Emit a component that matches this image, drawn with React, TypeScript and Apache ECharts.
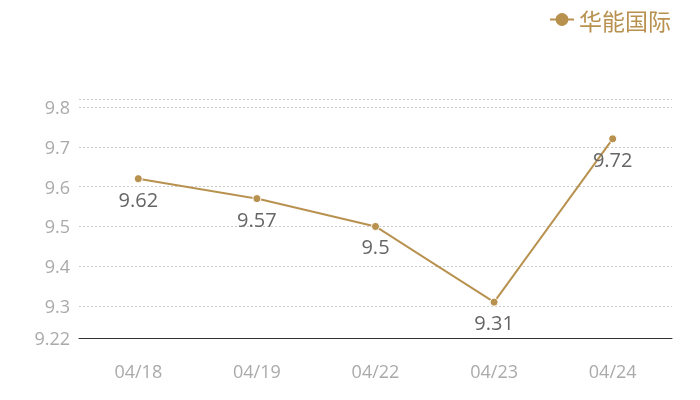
import React, { useEffect, useRef } from "react";
import * as echarts from "echarts";

const categories = ["04/18", "04/19", "04/22", "04/23", "04/24"];
const values = [9.62, 9.57, 9.5, 9.31, 9.72];
const seriesName = "华能国际";
const yMin = 9.22;
const yMax = 9.82;
const gridTicks = [9.22, 9.3, 9.4, 9.5, 9.6, 9.7, 9.8, 9.82];
const labelTicks = [9.22, 9.3, 9.4, 9.5, 9.6, 9.7, 9.8];

export default function App() {
  const ref = useRef<HTMLDivElement>(null);
  useEffect(() => {
    if (!ref.current) return;
    const chart = echarts.init(ref.current, null, { renderer: "svg" });
    const font = "'Open Sans', 'Noto Sans CJK SC', sans-serif";
    chart.setOption({
      animation: false,
      legend: {
        top: 3,
        right: 24,
        itemWidth: 24,
        itemHeight: 16,
        itemGap: 6,
        data: [seriesName],
        itemStyle: { borderWidth: 0 },
        textStyle: { color: "#b8914f", fontSize: 23, fontFamily: "'Noto Sans CJK SC', sans-serif" },
      },
      grid: { left: 79, right: 28, top: 99, bottom: 62, containLabel: false },
      xAxis: {
        type: "category",
        data: categories,
        axisLine: { lineStyle: { color: "#333", width: 1 } },
        axisTick: { show: false },
        axisLabel: { color: "#aaa", fontSize: 18, margin: 24, fontFamily: font },
      },
      yAxis: {
        type: "value",
        min: yMin,
        max: yMax,
        axisLine: { show: false },
        axisTick: { show: false, customValues: gridTicks },
        axisLabel: { color: "#aaa", fontSize: 18, margin: 9, customValues: labelTicks, fontFamily: font },
        splitLine: { lineStyle: { color: "#c8c8c8", type: [2, 2], width: 1 } },
      },
      series: [
        {
          name: seriesName,
          type: "line",
          data: values,
          symbol: "circle",
          symbolSize: 8,
          itemStyle: { color: "#b8914f", borderColor: "#fff", borderWidth: 1 },
          lineStyle: { color: "#b8914f", width: 2 },
          label: {
            show: true,
            position: "bottom",
            distance: 6,
            color: "#666",
            fontSize: 20,
            fontFamily: font,
          },
        },
      ],
    });
    return () => chart.dispose();
  }, []);
  return (
    <div
      ref={ref}
      style={{ position: "fixed", left: 0, top: 0, width: 700, height: 400 }}
    />
  );
}
